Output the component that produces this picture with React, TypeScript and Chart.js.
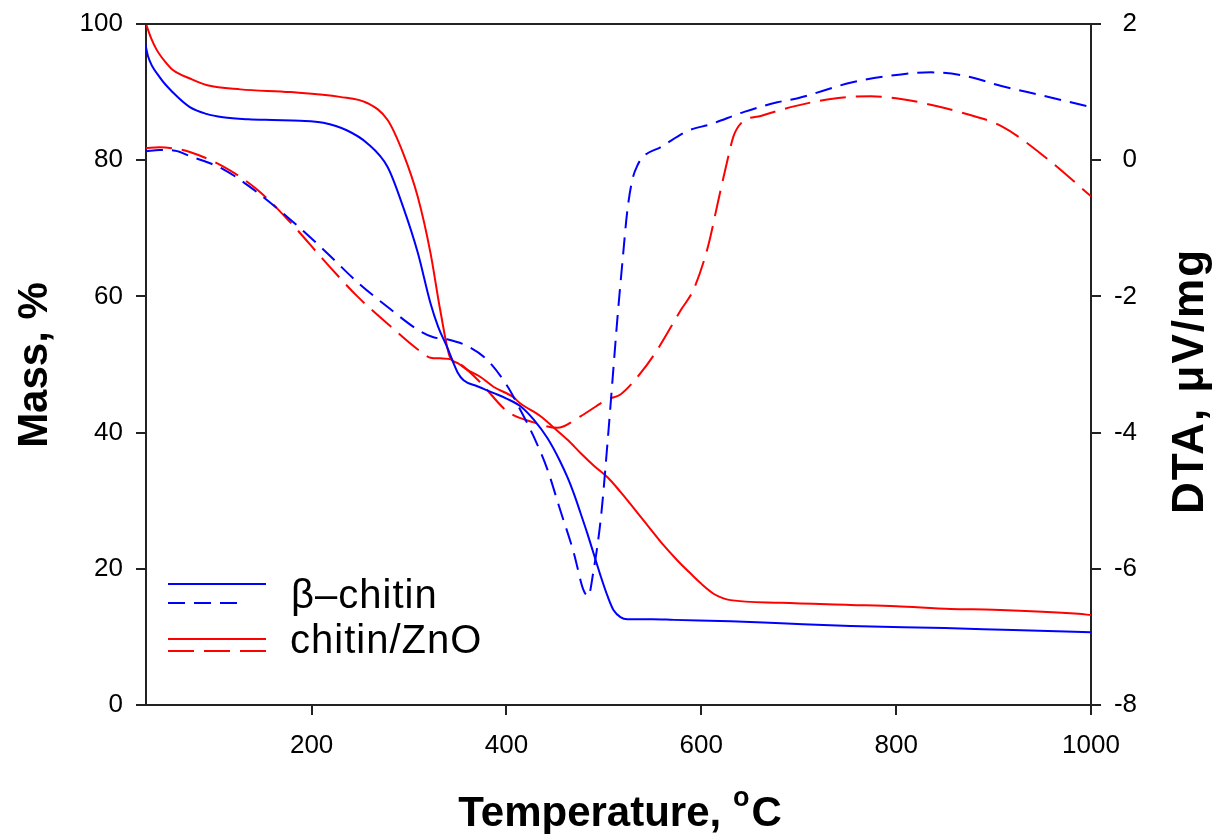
import React, { useEffect, useRef } from 'react';
import { Chart, registerables } from 'chart.js';

Chart.register(...registerables);

const FONT = '"Liberation Sans", Arial, Helvetica, sans-serif';

// X ticks (Temperature, °C)
const xTicks = [200, 400, 600, 800, 1000];

// β-chitin, mass (TG)
const betaTgT = [29, 32, 44, 58, 75, 92, 109, 135, 160, 188, 212, 236, 257, 278, 294, 309, 322, 330, 339, 350, 356, 370, 387, 400, 415, 428, 442, 455, 463, 469, 476, 483, 490, 497, 504, 510, 517, 524, 550, 572, 630, 682, 753, 850, 920, 1000];
const betaTgMass = [97.3, 95.3, 92.2, 89.9, 87.8, 86.8, 86.3, 86.0, 85.9, 85.8, 85.5, 84.4, 82.5, 79.0, 73.1, 66.4, 59.0, 55.5, 52.6, 48.8, 47.7, 46.8, 45.8, 45.0, 43.8, 41.9, 39.2, 35.8, 33.3, 31.1, 28.2, 25.2, 22.0, 18.8, 15.9, 13.9, 12.9, 12.6, 12.6, 12.5, 12.3, 12.0, 11.6, 11.3, 11.0, 10.7];

// chitin/ZnO, mass (TG)
const znoTgT = [30, 35, 41, 50, 58, 75, 93, 127, 178, 229, 257, 278, 294, 309, 322, 332, 342, 350, 360, 373, 387, 407, 414, 435, 448, 463, 476, 490, 504, 517, 524, 538, 548, 561, 575, 589, 600, 613, 622, 630, 682, 753, 800, 856, 900, 987, 1000];
const znoTgMass = [100, 98, 96.2, 94.4, 93.2, 92.0, 91.0, 90.4, 90.0, 89.3, 88.4, 85.9, 81.0, 74.6, 66.4, 58.0, 51.1, 50.2, 49.2, 48.2, 46.7, 45.2, 44.3, 42.4, 40.8, 38.9, 37.0, 35.1, 33.4, 31.3, 30.1, 27.6, 25.8, 23.5, 21.3, 19.3, 17.8, 16.3, 15.7, 15.4, 15.0, 14.7, 14.5, 14.1, 14.0, 13.4, 13.2];

// β-chitin, DTA
const betaDtaT = [30, 44, 60, 75, 109, 144, 178, 212, 247, 281, 309, 325, 339, 360, 380, 401, 414, 428, 442, 455, 469, 479, 484, 489, 497, 504, 509, 514, 519, 524, 529, 535, 541, 558, 586, 610, 644, 678, 699, 754, 805, 836, 870, 908, 950, 1000];
const betaDtaV = [0.13, 0.15, 0.14, 0.06, -0.13, -0.47, -0.87, -1.31, -1.79, -2.19, -2.49, -2.6, -2.63, -2.73, -2.93, -3.32, -3.66, -4.06, -4.54, -5.13, -5.76, -6.31, -6.4, -6.06, -5.24, -4.1, -3.2, -2.3, -1.5, -0.75, -0.3, -0.06, 0.06, 0.19, 0.43, 0.53, 0.71, 0.85, 0.91, 1.14, 1.26, 1.29, 1.24, 1.09, 0.95, 0.78];

// chitin/ZnO, DTA
const znoDtaT = [30, 44, 60, 75, 109, 144, 178, 212, 247, 281, 309, 322, 332, 345, 355, 373, 401, 428, 452, 476, 504, 517, 538, 555, 579, 592, 607, 617, 627, 633, 642, 661, 695, 733, 774, 805, 840, 867, 908, 956, 1000];
const znoDtaV = [0.18, 0.19, 0.17, 0.12, -0.09, -0.43, -0.91, -1.46, -2.0, -2.44, -2.78, -2.9, -2.91, -2.93, -3.02, -3.26, -3.69, -3.85, -3.93, -3.76, -3.51, -3.44, -3.12, -2.78, -2.2, -1.9, -1.26, -0.62, 0.01, 0.35, 0.56, 0.65, 0.79, 0.9, 0.94, 0.9, 0.8, 0.7, 0.5, 0.01, -0.53];

const BLUE = '#0000ff';
const RED = '#ff0000';
const AXIS = '#222222';
const blueDash = [17, 9];
const redDash = [26, 10];

const pts = (xs: number[], ys: number[]) => xs.map((x, i) => ({ x, y: ys[i] }));

const decorPlugin = {
  id: 'decor',
  afterDraw(chart: any) {
    const ctx = chart.ctx as any;
    const a = chart.chartArea;
    ctx.save();
    // top frame line
    ctx.strokeStyle = AXIS;
    ctx.lineWidth = 2;
    ctx.beginPath();
    ctx.moveTo(a.left - 1, a.top);
    ctx.lineTo(a.right + 1, a.top);
    ctx.stroke();

    ctx.fillStyle = '#000';
    // left title
    ctx.save();
    ctx.font = `bold 42px ${FONT}`;
    ctx.translate(47, 365);
    ctx.rotate(-Math.PI / 2);
    ctx.textAlign = 'center';
    ctx.textBaseline = 'alphabetic';
    ctx.fillText('Mass, %', 0, 0);
    ctx.restore();

    // right title
    ctx.save();
    ctx.font = `bold 44px ${FONT}`;
    ctx.letterSpacing = '2px';
    ctx.translate(1203, 381);
    ctx.rotate(-Math.PI / 2);
    ctx.textAlign = 'center';
    ctx.textBaseline = 'alphabetic';
    ctx.fillText('DTA, μV/mg', 0, 0);
    ctx.restore();

    // bottom title
    ctx.textAlign = 'left';
    ctx.textBaseline = 'alphabetic';
    const big = `bold 42px ${FONT}`;
    const small = `bold 27px ${FONT}`;
    ctx.font = big;
    const w1 = ctx.measureText('Temperature, ').width;
    const wC = ctx.measureText('C').width;
    ctx.font = small;
    const wo = ctx.measureText('o').width;
    const total = w1 + wo + 2 + wC;
    let x = 620 - total / 2;
    const base = 826;
    ctx.font = big;
    ctx.fillText('Temperature, ', x, base);
    x += w1;
    ctx.font = small;
    ctx.fillText('o', x, base - 20);
    x += wo + 2;
    ctx.font = big;
    ctx.fillText('C', x, base);

    // legend
    const seg = (x1: number, x2: number, y: number, color: string, dash: number[]) => {
      ctx.save();
      ctx.strokeStyle = color;
      ctx.lineWidth = 2;
      ctx.setLineDash(dash);
      ctx.beginPath();
      ctx.moveTo(x1, y);
      ctx.lineTo(x2, y);
      ctx.stroke();
      ctx.restore();
    };
    seg(168, 266, 584, BLUE, []);
    seg(168, 237, 603, BLUE, blueDash);
    seg(168, 266, 639, RED, []);
    seg(168, 266, 651, RED, redDash);
    ctx.save();
    ctx.font = `40px ${FONT}`;
    ctx.letterSpacing = '1px';
    ctx.fillStyle = '#000';
    ctx.fillText('β–chitin', 291, 608);
    ctx.fillText('chitin/ZnO', 290, 653);
    ctx.restore();
    ctx.restore();
  },
};

export default function App() {
  const ref = useRef<HTMLCanvasElement | null>(null);
  useEffect(() => {
    if (!ref.current) return;
    const tickFont = { family: FONT, size: 26 };
    const gridCfg = {
      display: true,
      drawOnChartArea: false,
      drawTicks: true,
      tickLength: 10,
      color: AXIS,
      lineWidth: 2,
    };
    const borderCfg = { display: true, color: AXIS, width: 2 };
    const plain = (v: any) => String(v);
    const chart = new Chart(ref.current, {
      type: 'line',
      data: {
        datasets: [
          {
            label: 'β–chitin TG',
            data: pts(betaTgT, betaTgMass),
            yAxisID: 'y',
            borderColor: BLUE,
            borderWidth: 2,
            pointRadius: 0,
            fill: false,
            cubicInterpolationMode: 'monotone',
          },
          {
            label: 'β–chitin DTA',
            data: pts(betaDtaT, betaDtaV),
            yAxisID: 'y2',
            borderColor: BLUE,
            borderWidth: 2,
            borderDash: blueDash,
            pointRadius: 0,
            fill: false,
            cubicInterpolationMode: 'monotone',
          },
          {
            label: 'chitin/ZnO TG',
            data: pts(znoTgT, znoTgMass),
            yAxisID: 'y',
            borderColor: RED,
            borderWidth: 2,
            pointRadius: 0,
            fill: false,
            cubicInterpolationMode: 'monotone',
          },
          {
            label: 'chitin/ZnO DTA',
            data: pts(znoDtaT, znoDtaV),
            yAxisID: 'y2',
            borderColor: RED,
            borderWidth: 2,
            borderDash: redDash,
            pointRadius: 0,
            fill: false,
            cubicInterpolationMode: 'monotone',
          },
        ],
      },
      options: {
        responsive: false,
        animation: false,
        layout: { padding: { top: 24, left: 0, right: 81, bottom: 0 } },
        plugins: {
          legend: { display: false },
          tooltip: { enabled: false },
          title: { display: false },
        },
        scales: {
          x: {
            type: 'linear',
            position: 'bottom',
            min: 30,
            max: 1000,
            afterBuildTicks: (s: any) => {
              s.ticks = xTicks.map((v) => ({ value: v }));
            },
            afterFit: (s: any) => {
              s.height = 129;
              s.paddingLeft = 0;
              s.paddingRight = 0;
            },
            ticks: { font: tickFont, color: '#000', padding: 15, maxRotation: 0, autoSkip: false, callback: plain },
            grid: gridCfg,
            border: borderCfg,
          },
          y: {
            type: 'linear',
            position: 'left',
            min: 0,
            max: 100,
            ticks: { stepSize: 20, font: tickFont, color: '#000', padding: 13, callback: plain },
            afterFit: (s: any) => {
              s.width = 146;
              s.paddingTop = 0;
              s.paddingBottom = 0;
            },
            grid: gridCfg,
            border: borderCfg,
          },
          y2: {
            type: 'linear',
            position: 'right',
            min: -8,
            max: 2,
            ticks: { stepSize: 2, font: tickFont, color: '#000', padding: 13, crossAlign: 'far', callback: plain },
            afterFit: (s: any) => {
              s.width = 46;
              s.paddingTop = 0;
              s.paddingBottom = 0;
            },
            grid: gridCfg,
            border: borderCfg,
          },
        },
      },
      plugins: [decorPlugin],
    } as any);
    return () => chart.destroy();
  }, []);
  return (
    <div style={{ position: 'fixed', left: 0, top: 0, width: 1218, height: 834, background: '#fff' }}>
      <canvas ref={ref} width={1218} height={834} />
    </div>
  );
}
